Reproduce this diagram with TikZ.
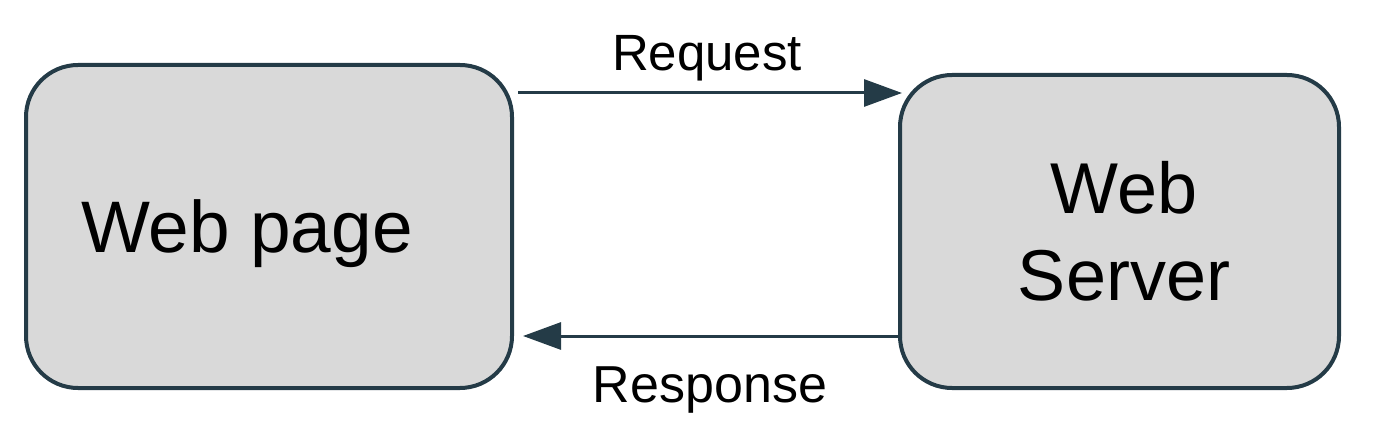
\documentclass[tikz,border=0pt]{standalone}
\usepackage{fontspec}
\setmainfont{Liberation Sans}
\usetikzlibrary{arrows.meta}
\definecolor{edgec}{HTML}{243B47}
\definecolor{boxfill}{HTML}{D9D9D9}
\begin{document}
\begin{tikzpicture}[x=1pt,y=-1pt,
  box/.style={draw=edgec, fill=boxfill, line width=4pt, rounded corners=52pt, inner sep=0pt},
  bigtext/.style={inner sep=0pt, font=\fontsize{72}{87}\selectfont},
  smalltext/.style={inner sep=0pt, font=\fontsize{51}{60}\selectfont, anchor=base},
  arr/.style={draw=edgec, line width=3pt, -{Triangle[length=38pt,width=27pt]}}]
\useasboundingbox (0,0) rectangle (1392,446);
\node[box, minimum width=486pt, minimum height=323pt] (wp) at (269,226.5) {};
\node[box, minimum width=439pt, minimum height=313pt] (ws) at (1119.5,231.5) {};
\node[bigtext, anchor=base, font=\fontsize{73}{87}\selectfont] (wpt) at (247,253) {Web page};
\node[bigtext, align=center] (wst) at (1124,231) {Web\\Server};
\node[smalltext] (req) at (707,71) {Request};
\node[smalltext, font=\fontsize{52}{60}\selectfont] (resp) at (710,402) {Response};
\draw[arr] ([xshift=4pt,yshift=133.5pt]wp.east) -- ([xshift=4pt,yshift=138.5pt]ws.west);
\draw[arr] ([xshift=4pt,yshift=-104.5pt]ws.west) -- ([xshift=9pt,yshift=-109.5pt]wp.east);
\end{tikzpicture}
\end{document}
